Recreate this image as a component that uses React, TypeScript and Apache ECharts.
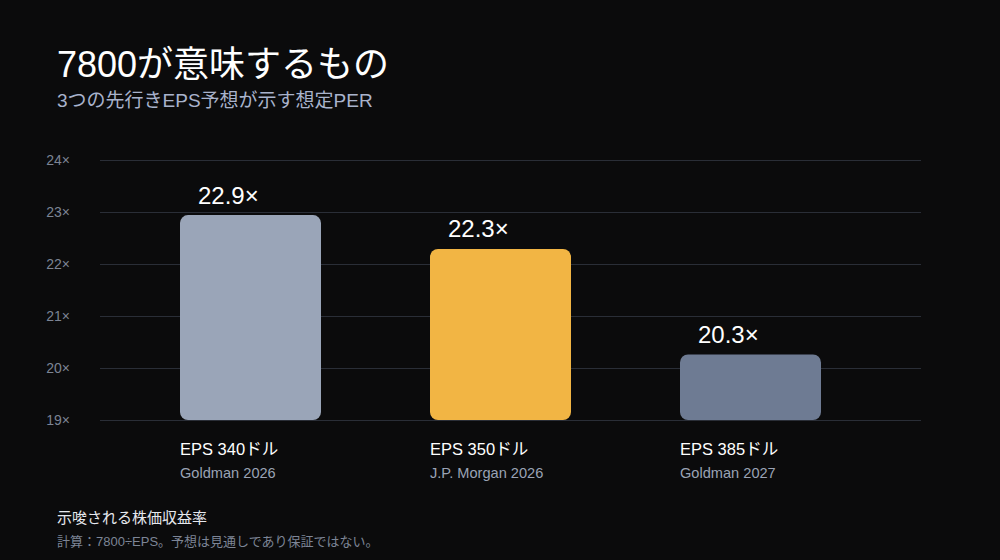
import React, { useEffect, useRef } from "react";
import * as echarts from "echarts";

const categories = ["EPS 340ドル", "EPS 350ドル", "EPS 385ドル"];
const sources = ["Goldman 2026", "J.P. Morgan 2026", "Goldman 2027"];
const perValues = [22.94, 22.29, 20.26];
const barColors = ["#9aa5b8", "#f2b544", "#6e7b93"];
const yMin = 19;
const yMax = 24;

const FONT = "'Liberation Sans', 'Noto Sans CJK JP', sans-serif";

export default function App() {
  const ref = useRef<HTMLDivElement>(null);
  useEffect(() => {
    document.body.style.margin = "0";
    document.body.style.background = "#0b0b0c";
    const chart = echarts.init(ref.current!, null, { renderer: "svg" });
    chart.setOption({
      animation: false,
      backgroundColor: "#0b0b0c",
      textStyle: { fontFamily: FONT },
      title: [
        {
          text: "7800が意味するもの",
          subtext: "3つの先行きEPS予想が示す想定PER",
          left: 57,
          top: 46,
          padding: 0,
          itemGap: 9,
          textStyle: { color: "#ffffff", fontSize: 36, fontWeight: "normal", fontFamily: FONT },
          subtextStyle: { color: "#a9b3cc", fontSize: 19, fontFamily: FONT },
        },
        {
          text: "示唆される株価収益率",
          subtext: "計算：7800÷EPS。予想は見通しであり保証ではない。",
          left: 57,
          top: 509.5,
          padding: 0,
          itemGap: 10,
          textStyle: { color: "#e6e8ee", fontSize: 15, fontWeight: "normal", fontFamily: FONT },
          subtextStyle: { color: "#7d8596", fontSize: 13, fontFamily: FONT },
        },
      ],
      grid: [
        { left: 100, right: 79, top: 160, bottom: 140 },
        { left: 125.5, width: 750, top: 160, bottom: 140 },
      ],
      xAxis: [
        { type: "category", gridIndex: 0, data: categories, show: false },
        {
          type: "category",
          gridIndex: 1,
          data: categories,
          axisLine: { show: false },
          axisTick: { show: false },
          axisLabel: {
            margin: 17,
            align: "center",
            formatter: (v: string, i: number) => `{a|${v}}\n{b|${sources[i]}}`,
            rich: {
              a: { width: 141, align: "left", color: "#ffffff", fontSize: 16.5, lineHeight: 24, fontFamily: FONT },
              b: { width: 141, align: "left", color: "#9aa3b5", fontSize: 14.6, lineHeight: 24, fontFamily: FONT },
            },
          },
        },
      ],
      yAxis: [
        {
          type: "value",
          gridIndex: 0,
          min: yMin,
          max: yMax,
          interval: 1,
          axisLine: { show: false },
          axisTick: { show: false },
          splitLine: { lineStyle: { color: "#2a2e37", width: 1 } },
          axisLabel: {
            margin: 30,
            color: "#7c8494",
            fontSize: 14,
            fontFamily: FONT,
            formatter: (v: number) => `${v}×`,
          },
        },
        {
          type: "value",
          gridIndex: 1,
          min: yMin,
          max: yMax,
          interval: 1,
          show: false,
        },
      ],
      series: [
        {
          type: "bar",
          xAxisIndex: 1,
          yAxisIndex: 1,
          barWidth: 141,
          data: perValues.map((v, i) => ({
            value: v,
            itemStyle: { color: barColors[i], borderRadius: 8 },
          })),
          label: {
            show: true,
            position: [18, -8],
            align: "left",
            verticalAlign: "bottom",
            color: "#ffffff",
            fontSize: 24,
            fontFamily: FONT,
            formatter: (p: any) => `${p.value.toFixed(1)}×`,
          },
        },
      ],
    });
    return () => chart.dispose();
  }, []);
  return <div ref={ref} style={{ width: 1000, height: 560 }} />;
}
